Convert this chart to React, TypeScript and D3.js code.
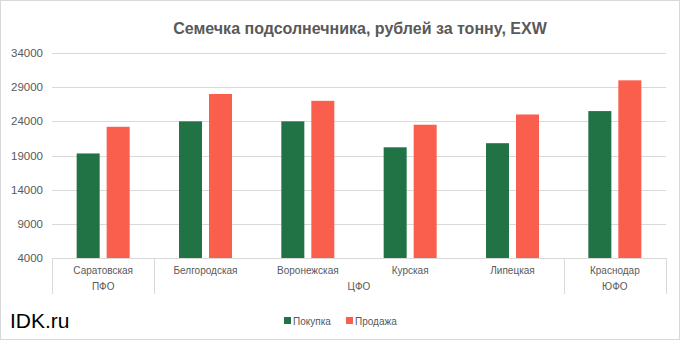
import React from "react";
import * as d3 from "d3";

const categories = ["Саратовская", "Белгородская", "Воронежская", "Курская", "Липецкая", "Краснодар"];
const regions = [
  { name: "ПФО", from: 0, to: 0 },
  { name: "ЦФО", from: 1, to: 4 },
  { name: "ЮФО", from: 5, to: 5 },
];
const seriesNames = ["Покупка", "Продажа"];
const buyValues = [19300, 24000, 24000, 20200, 20800, 25500];
const sellValues = [23200, 28000, 27000, 23500, 25000, 30000];
const yTicks = [4000, 9000, 14000, 19000, 24000, 29000, 34000];
const title = "Семечка подсолнечника, рублей за тонну, EXW";
const colors = ["#217346", "#FA5E4D"];

const W = 681;
const H = 341;
const plotLeft = 52;
const plotRight = 666;
const plotTop = 53;
const plotBottom = 258;
const font = "'Liberation Sans', Arial, sans-serif";
const textColor = "#595959";
const gridColor = "#D9D9D9";

export default function App() {
  const x = d3.scaleBand<number>().domain(d3.range(categories.length)).range([plotLeft, plotRight]);
  const bw = x.bandwidth();
  const groupW = 53;
  const xSub = d3
    .scaleBand<number>()
    .domain([0, 1])
    .range([(bw - groupW) / 2, (bw + groupW) / 2])
    .paddingInner(7 / 30);
  const y = d3.scaleLinear().domain([4000, 34000]).range([plotBottom, plotTop]);
  const series = [buyValues, sellValues];

  const boundaries = [0, ...regions.map((r) => r.to + 1)];

  return (
    <div style={{ position: "fixed", left: 0, top: 0 }}>
      <svg width={W} height={H} style={{ display: "block", background: "#fff" }}>
        <rect x={0.5} y={0.5} width={W - 2} height={H - 2} fill="#fff" stroke={gridColor} />
        <text
          x={360}
          y={34}
          textAnchor="middle"
          fontFamily={font}
          fontWeight="bold"
          fontSize={16}
          fill={textColor}
        >
          {title}
        </text>
        {yTicks.map((t) => (
          <g key={t}>
            <line x1={plotLeft} x2={plotRight} y1={Math.round(y(t)) + 0.5} y2={Math.round(y(t)) + 0.5} stroke={gridColor} />
            <text x={43} y={y(t) + 4} textAnchor="end" fontFamily={font} fontSize={11.5} fill={textColor}>
              {t}
            </text>
          </g>
        ))}
        {series.map((vals, si) =>
          vals.map((v, ci) => (
            <rect
              key={`${si}-${ci}`}
              x={(x(ci) as number) + (xSub(si) as number)}
              y={y(v)}
              width={xSub.bandwidth()}
              height={plotBottom - y(v)}
              fill={colors[si]}
            />
          ))
        )}
        <line x1={plotLeft} x2={plotRight} y1={plotBottom + 0.5} y2={plotBottom + 0.5} stroke={gridColor} />
        {boundaries.map((b, i) => {
          const xx = b >= categories.length ? plotRight : (x(b) as number);
          return (
            <line key={i} x1={Math.round(xx) + 0.5} x2={Math.round(xx) + 0.5} y1={plotBottom} y2={294} stroke={gridColor} />
          );
        })}
        {categories.map((c, i) => (
          <text
            key={c}
            x={(x(i) as number) + bw / 2}
            y={274}
            textAnchor="middle"
            fontFamily={font}
            fontSize={10}
            fill={textColor}
          >
            {c}
          </text>
        ))}
        {regions.map((r) => {
          const x0 = x(r.from) as number;
          const x1 = (x(r.to) as number) + bw;
          return (
            <text
              key={r.name}
              x={(x0 + x1) / 2}
              y={290}
              textAnchor="middle"
              fontFamily={font}
              fontSize={10}
              fill={textColor}
            >
              {r.name}
            </text>
          );
        })}
        <text x={10} y={328} fontFamily={font} fontSize={21} fill="#000">
          IDK.ru
        </text>
        {seriesNames.map((s, i) => {
          const lx = i === 0 ? 284 : 346;
          return (
            <g key={s}>
              <rect x={lx} y={317} width={7} height={7} fill={colors[i]} />
              <text x={lx + 9} y={324.5} fontFamily={font} fontSize={10} fill={textColor}>
                {s}
              </text>
            </g>
          );
        })}
      </svg>
    </div>
  );
}
